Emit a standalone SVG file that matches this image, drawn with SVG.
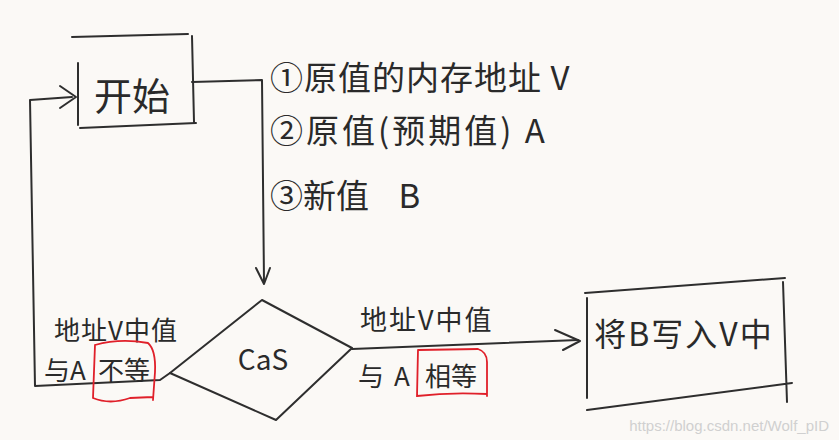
<svg xmlns="http://www.w3.org/2000/svg" width="839" height="440" viewBox="0 0 839 440">
<defs>
<style>
.ln{fill:none;stroke:#2e2e2e;stroke-width:2;stroke-linecap:round;stroke-linejoin:round}
.t{font-family:"Noto Sans CJK SC","Liberation Sans",sans-serif;fill:#2a2a2a}
.red{fill:none;stroke:#e0202a;stroke-width:1.8;stroke-linecap:round}
</style>
</defs>
<rect width="839" height="440" fill="#fbf9f6"/>
<g id="connectors">
<path class="ln" d="M192,82 L262,80 L264,282"/>
<path class="ln" d="M256,268 L264,284 L270,268"/>
<path class="ln" d="M170,373 L160,380 L35,386 L30,100 L72,97"/>
<path class="ln" d="M60,86 L76,97 L60,108"/>
<path class="ln" d="M352,349 L578,340"/>
<path class="ln" d="M555,330 L580,341 L563,350"/>
</g>
<g id="start">
<path class="ln" d="M72,37 L188,34 M78,63 L78,125 M192,36 L194,122 M80,128 L196,123"/>
<text class="t" x="132" y="110" font-size="38" text-anchor="middle">开始</text>
</g>
<g id="inputs">
<text class="t" x="270" y="90" font-size="33" letter-spacing="1">①原值的内存地址 V</text>
<text class="t" x="270" y="143" font-size="33" letter-spacing="3">②原值(预期值) A</text>
<text class="t" x="270" y="208" font-size="33">③新值 <tspan dx="22">B</tspan></text>
</g>
<g id="cas">
<path class="ln" d="M262,300 L352,348 L276,420 L170,373 Z"/>
<text class="t" x="263" y="370" font-size="28" text-anchor="middle">CaS</text>
</g>
<g id="label-ne">
<text class="t" x="54" y="340" font-size="26" letter-spacing="1">地址V中值</text>
<text class="t" x="44" y="380" font-size="26">与A<tspan x="98">不等</tspan></text>
<path class="red" d="M95,345 Q120,338 148,343 Q156,350 155,372 L153,400 M95,345 L93,398 Q110,405 130,398 L153,397"/>
</g>
<g id="label-eq">
<text class="t" x="360" y="330" font-size="27" letter-spacing="2">地址V中值</text>
<text class="t" x="358" y="386" font-size="26">与<tspan x="394">A</tspan><tspan x="425">相等</tspan></text>
<path class="red" d="M418,350 L478,349 Q487,352 487,362 L487,396 M418,350 L417,396 Q450,392 487,394"/>
</g>
<g id="write">
<path class="ln" d="M585,293 L785,278 M587,298 L587,398 M783,282 L787,402 M587,410 L792,383"/>
<text class="t" x="684" y="346" font-size="32" letter-spacing="2" text-anchor="middle">将B写入V中</text>
</g>
<text x="829" y="431" font-family="Liberation Sans, sans-serif" font-size="15" fill="#d0d0d0" text-anchor="end">https://blog.csdn.net/Wolf_pID</text>
</svg>
